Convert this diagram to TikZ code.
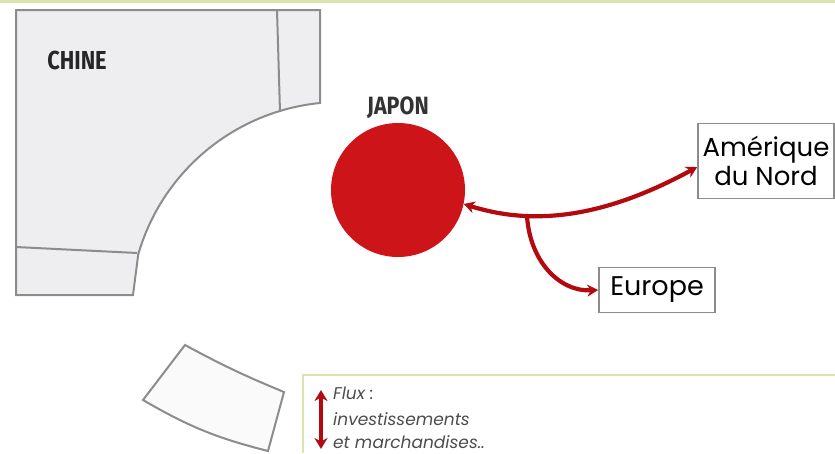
\documentclass[tikz,border=0pt]{standalone}
\usepackage{fontspec}
\setmainfont{Poppins}
\newfontfamily\mapfont{Fira Sans}
\usetikzlibrary{arrows.meta}
\definecolor{japonRed}{HTML}{CC1419}
\definecolor{fluxRed}{HTML}{B30A10}
\definecolor{landGrey}{HTML}{EEEEF0}
\definecolor{edgeGrey}{HTML}{8C8C8C}
\definecolor{paleGreen}{HTML}{DDE3AE}

\begin{document}
\begin{tikzpicture}[x=1pt, y=-1pt,
    land/.style={draw=edgeGrey, fill=landGrey, line width=2pt},
    place/.style={draw=edgeGrey, fill=white, line width=1.6pt, align=center, inner sep=0pt},
    flux/.style={draw=fluxRed, line width=4.2pt, -{Stealth[length=11pt,width=12pt]}},
    legtext/.style={anchor=west, inner sep=0pt, font=\fontsize{17}{20}\selectfont\itshape, text=black!70}]

    \useasboundingbox (0,0) rectangle (835,453);

    % frame edge
    \draw[paleGreen, line width=3pt] (0,1) -- (835,1);

    % China, with the coast cut by an arc
    \draw[land] (16,10) -- (320,10) -- (320,103)
        arc (264.3:196.1:211) -- (133,295) -- (16,295) -- cycle;
    \draw[edgeGrey, line width=2pt] (277,10) -- (280,112);
    \draw[edgeGrey, line width=2pt] (16,247) -- (137,253);
    \node[font=\mapfont\bfseries\fontsize{26}{30}\selectfont, xscale=0.84, transform shape,
          text=black!85] (chine) at (77,60) {CHINE};

    % small island piece at the bottom
    \draw[land, fill=white!70!landGrey] (185,345) to[bend right=3] (284,392)
        -- (268,451) to[bend left=8] (143,400) -- cycle;

    % Japan
    \node[circle, fill=japonRed, minimum size=134pt, inner sep=0pt] (japon) at (398,190) {};
    \node[font=\mapfont\bfseries\fontsize{25}{30}\selectfont, xscale=0.86, transform shape,
          text=black!80] (japonlabel) at (398,108) {JAPON};

    % partners
    \node[place, font=\fontsize{26}{32}\selectfont, minimum width=136pt, minimum height=75pt]
        (amerique) at (766,161) {Amérique\\[-3pt]du Nord};
    \node[place, font=\fontsize{27}{30}\selectfont, minimum width=116pt, minimum height=45pt]
        (europe) at (657,290) {Europe};

    % flows
    \coordinate (fork) at (527,216);
    \draw[flux, {Stealth[length=11pt,width=12pt]}-{Stealth[length=11pt,width=12pt]}]
        (japon.-12) .. controls (530,225) and (600,220) .. ([yshift=-6pt]amerique.west);
    \draw[flux] (fork) .. controls (530,262) and (560,292) .. (europe.west);

    % legend
    \draw[paleGreen, line width=2pt] (303,453) -- (303,375) -- (835,375);
    \coordinate (legtop) at (321,390);
    \coordinate (legbot) at (321,449);
    \draw[draw=fluxRed, line width=3.6pt, {Stealth[length=11pt,width=13pt]}-{Stealth[length=11pt,width=13pt]}] (legtop) -- (legbot);
    \node[legtext] (flux) at (333,393) {Flux :};
    \node[legtext] (invest) at (333,419) {investissements};
    \node[legtext] (march) at (333,442) {et marchandises..};

\end{tikzpicture}
\end{document}
